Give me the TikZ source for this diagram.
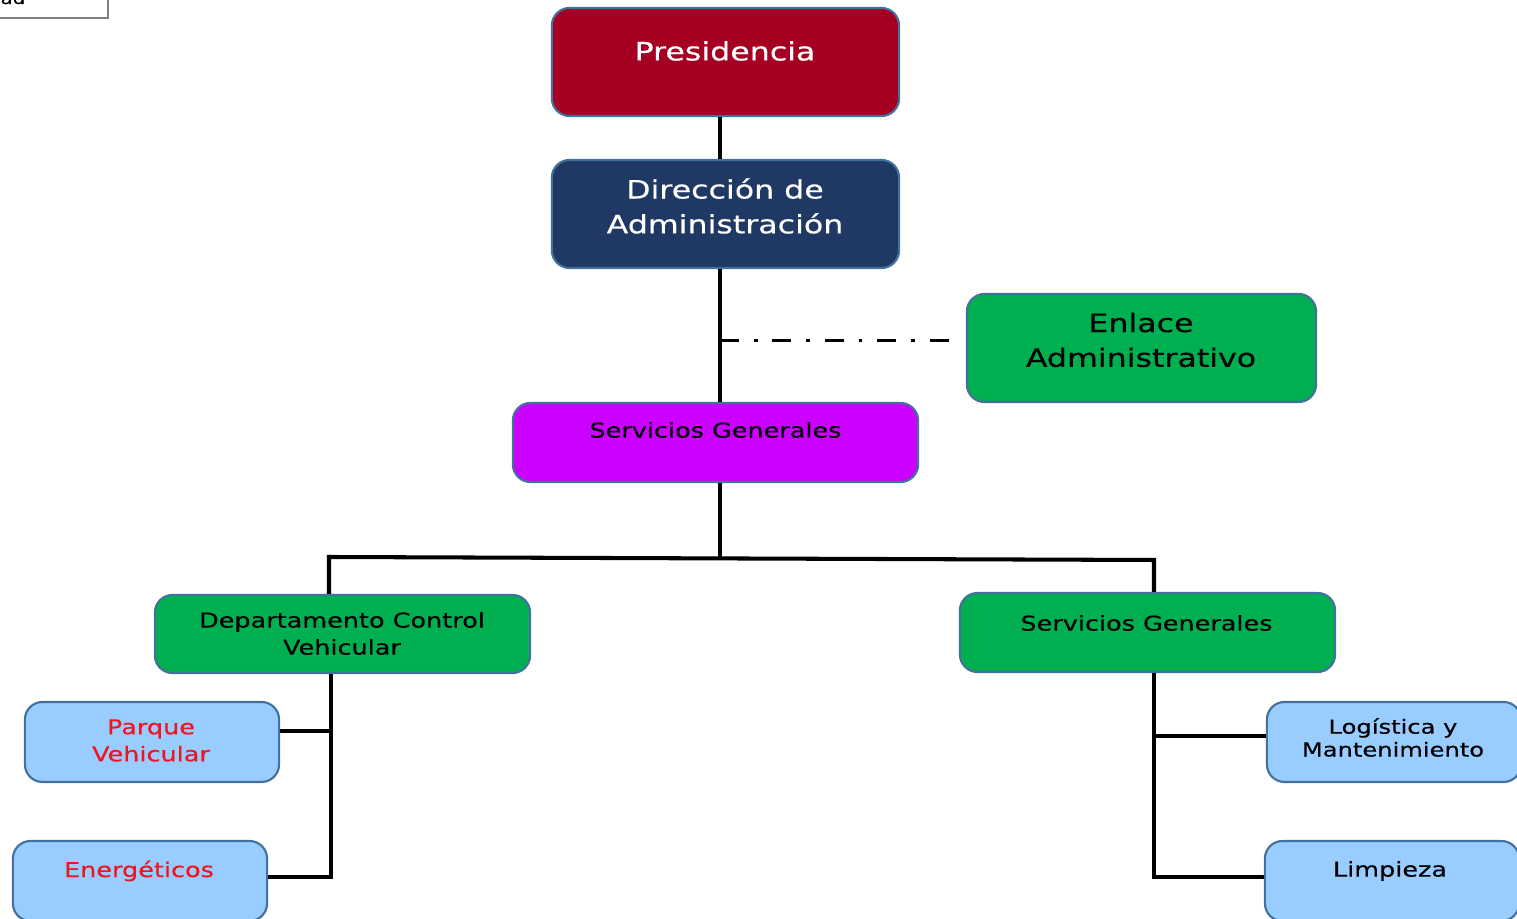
\documentclass[tikz,border=0pt]{standalone}
\usepackage{fontspec}
\setmainfont{DejaVu Sans}[FakeStretch=1.25,FakeBold=0.4]
\usepackage{xcolor}
\definecolor{presred}{HTML}{A50021}
\definecolor{dirnavy}{HTML}{203864}
\definecolor{orggreen}{HTML}{00B050}
\definecolor{orgpurple}{HTML}{CC00FF}
\definecolor{orgblue}{HTML}{99CCFF}
\definecolor{orgedge}{HTML}{41719C}
\definecolor{orgred}{HTML}{F0141E}

\begin{document}
\begin{tikzpicture}[x=0.01cm,y=-0.01cm,
    orgbox/.style={draw=orgedge,line width=0.6pt,rounded corners=5pt,inner sep=0pt},
    bigbox/.style={orgbox,minimum width=3.47cm,minimum height=1.08cm},
    midbox/.style={orgbox,fill=orggreen,minimum width=3.75cm,minimum height=0.79cm},
    leafbox/.style={orgbox,fill=orgblue,minimum width=2.54cm,minimum height=0.8cm},
    bigtxt/.style={align=center,inner sep=0pt,font=\fontsize{7.2}{9.9}\selectfont},
    midtxt/.style={align=center,inner sep=0pt,font=\fontsize{5.8}{7.7}\selectfont},
    leaftxt/.style={align=center,inner sep=0pt,font=\fontsize{5.5}{6.5}\selectfont},
    conn/.style={line width=1.15pt},
    dashdot/.style={line width=0.85pt,dash pattern=on 5.4pt off 4.2pt on 1.1pt off 4.2pt}]
        \newcommand{\orgtrunkx}{720}
        \newcommand{\orgtapy}{341}
        \newcommand{\orgleftx}{331}
        \newcommand{\orgrightx}{1154}
        \useasboundingbox (0,0) rectangle (1517,919);
        \node[draw=gray,line width=0.6pt,minimum width=1.68cm,minimum height=0.58cm,inner sep=0pt] (legend) at (24,-11) {};
        \node[anchor=base east,inner sep=0pt,font=\fontsize{4.5}{5}\selectfont] (legendtxt) at (26,4) {dad};
        \node[bigbox,fill=presred] (pres) at (725.5,62) {};
        \node[bigtxt,text=white] (prestxt) at (725,51) {Presidencia};
        \node[bigbox,fill=dirnavy] (dir) at (725.5,214) {};
        \node[bigtxt,text=white] (dirtxt) at (725,206) {Dirección de\\Administración};
        \node[bigbox,fill=orggreen,minimum width=3.49cm] (enl) at (1141.5,348) {};
        \node[bigtxt] (enltxt) at (1141,340) {Enlace\\Administrativo};
        \node[orgbox,fill=orgpurple,minimum width=4.05cm,minimum height=0.79cm] (sgp) at (715.5,442.5) {};
        \node[midtxt] (sgptxt) at (715.5,430) {Servicios Generales};
        \node[midbox,minimum height=0.78cm] (depto) at (342.5,634) {};
        \node[midtxt] (deptotxt) at (342,633.5) {Departamento Control\\Vehicular};
        \node[midbox] (sgg) at (1147.5,632.5) {};
        \node[midtxt] (sggtxt) at (1146.5,623) {Servicios Generales};
        \node[leafbox] (parque) at (152,742) {};
        \node[midtxt,text=orgred] (parquetxt) at (151,740.5) {Parque\\Vehicular};
        \node[leafbox] (energ) at (140,881) {};
        \node[midtxt,text=orgred] (energtxt) at (139,871) {Energéticos};
        \node[leafbox] (logis) at (1394,742) {};
        \node[leaftxt] (logistxt) at (1393,737.5) {Logística y\\Mantenimiento};
        \node[leafbox] (limp) at (1392,881) {};
        \node[midtxt] (limptxt) at (1390,871) {Limpieza};
        \coordinate (trunk) at (\orgtrunkx,0);
        \coordinate (tap) at (\orgtrunkx,\orgtapy);
        \coordinate (barL) at (329,557);
        \coordinate (barR) at (\orgrightx,560);
        \coordinate (dleg) at (\orgleftx,0);
        \coordinate (sleg) at (\orgrightx,0);
        \draw[conn] (pres.south -| trunk) -- (dir.north -| trunk);
        \draw[conn] (dir.south -| trunk) -- (sgp.north -| trunk);
        \draw[dashdot,shorten >=0.1cm] (tap) -- (tap -| enl.west);
        \draw[conn] (sgp.south -| trunk) -- (trunk |- barL);
        \draw[conn] (depto.north -| barL) -- (barL) -- (barR) -- (sgg.north -| barR);
        \draw[conn] (depto.south -| dleg) |- ([yshift=1.1pt]energ.east);
        \draw[conn] ([yshift=3.1pt]parque.east) -- ([yshift=3.1pt]parque.east -| dleg);
        \draw[conn] (sgg.south -| sleg) |- ([yshift=1.1pt]limp.west);
        \draw[conn] ([yshift=1.7pt]logis.west) -- ([yshift=1.7pt]logis.west -| sleg);
    \end{tikzpicture}
\end{document}
